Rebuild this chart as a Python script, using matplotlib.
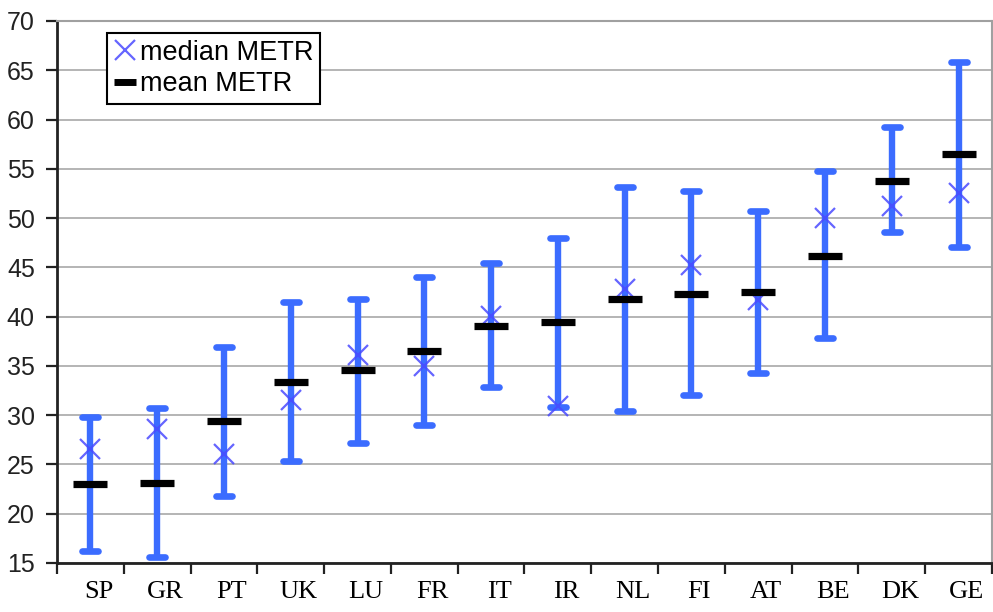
import matplotlib
matplotlib.use("Agg")
import matplotlib.pyplot as plt
import matplotlib.transforms as mtransforms
from matplotlib.lines import Line2D
import numpy as np

countries = ["SP", "GR", "PT", "UK", "LU", "FR", "IT", "IR", "NL", "FI", "AT", "BE", "DK", "GE"]
upper = [29.8, 30.7, 36.9, 41.5, 41.8, 44.0, 45.4, 48.0, 53.2, 52.7, 50.7, 54.8, 59.2, 65.8]
lower = [16.2, 15.6, 21.8, 25.4, 27.2, 29.0, 32.9, 30.8, 30.4, 32.0, 34.3, 37.8, 48.6, 47.1]
median = [26.6, 28.6, 26.1, 31.5, 36.1, 35.0, 40.1, 30.9, 42.8, 45.2, 41.7, 50.0, 51.2, 52.5]
mean = [23.0, 23.1, 29.4, 33.4, 34.6, 36.5, 39.1, 39.5, 41.8, 42.3, 42.5, 46.2, 53.8, 56.5]
yticks = [15, 20, 25, 30, 35, 40, 45, 50, 55, 60, 65, 70]

BAR = "#3b6cff"
XCOL = "#4a4aff"

fig = plt.figure(figsize=(9.93, 6.12), dpi=100)
ax = fig.add_axes([57/993, 1-563/612, 935/993, 542/612])

x = np.arange(len(countries))
lo = np.array(lower); hi = np.array(upper)
ax.vlines(x, lo, hi, color=BAR, lw=4.6, zorder=3)
ax.hlines(hi, x-0.12, x+0.12, color=BAR, lw=4.8, zorder=3, capstyle='round')
ax.hlines(lo, x-0.12, x+0.12, color=BAR, lw=4.8, zorder=3, capstyle='round')
ax.plot(x, median, ls='none', marker='x', ms=15, mew=1.6, color=XCOL, alpha=0.85, zorder=4)
ax.plot(x, mean, ls='none', marker='_', ms=24, mew=5.2, color='black', zorder=5)

ax.set_xlim(-0.5, len(countries)-0.5)
ax.set_ylim(15, 70)
ax.set_yticks(yticks)
ax.yaxis.grid(True, color='#b4b4b4', lw=1.4, zorder=0)
ax.set_axisbelow(True)

# major x ticks at category boundaries (no labels), labels on minor ticks at centers
ax.set_xticks(np.arange(len(countries)+1)-0.5)
ax.set_xticklabels([])
ax.set_xticks(x, minor=True)
ax.set_xticklabels(countries, minor=True, fontfamily='Liberation Serif', fontsize=19)
ax.tick_params(axis='x', which='major', length=8, width=1.6, direction='out', color='#222222')
ax.tick_params(axis='x', which='minor', length=0, pad=13)
off = mtransforms.ScaledTranslation(8/100, 0, fig.dpi_scale_trans)
for lab in ax.get_xticklabels(minor=True):
    lab.set_transform(lab.get_transform() + off)

ax.tick_params(axis='y', length=8, width=1.6, direction='out', color='#222222', pad=8)
for lab in ax.get_yticklabels():
    lab.set_fontfamily('Liberation Sans')
    lab.set_fontsize(18)
    lab.set_color('#222222')

for s in ['left', 'bottom']:
    ax.spines[s].set_color('#222222')
    ax.spines[s].set_linewidth(2)
for s in ['top', 'right']:
    ax.spines[s].set_color('#a0a0a0')
    ax.spines[s].set_linewidth(1.5)

h1 = Line2D([], [], ls='none', marker='x', ms=14, mew=1.6, color=XCOL, alpha=0.85)
h2 = Line2D([], [], ls='none', marker='_', ms=16, mew=5, color='black')
leg = ax.legend([h1, h2], ["median METR", "mean METR"], loc='upper left',
                bbox_to_anchor=(50/935, 530/542), borderaxespad=0, frameon=True,
                fancybox=False, edgecolor='black', framealpha=1,
                prop={'family': 'Liberation Sans', 'size': 19.5},
                handlelength=0.8, handletextpad=0.15, borderpad=0.25,
                labelspacing=0.2)
leg.get_frame().set_linewidth(1.5)

fig.savefig("out.png", dpi=100)
